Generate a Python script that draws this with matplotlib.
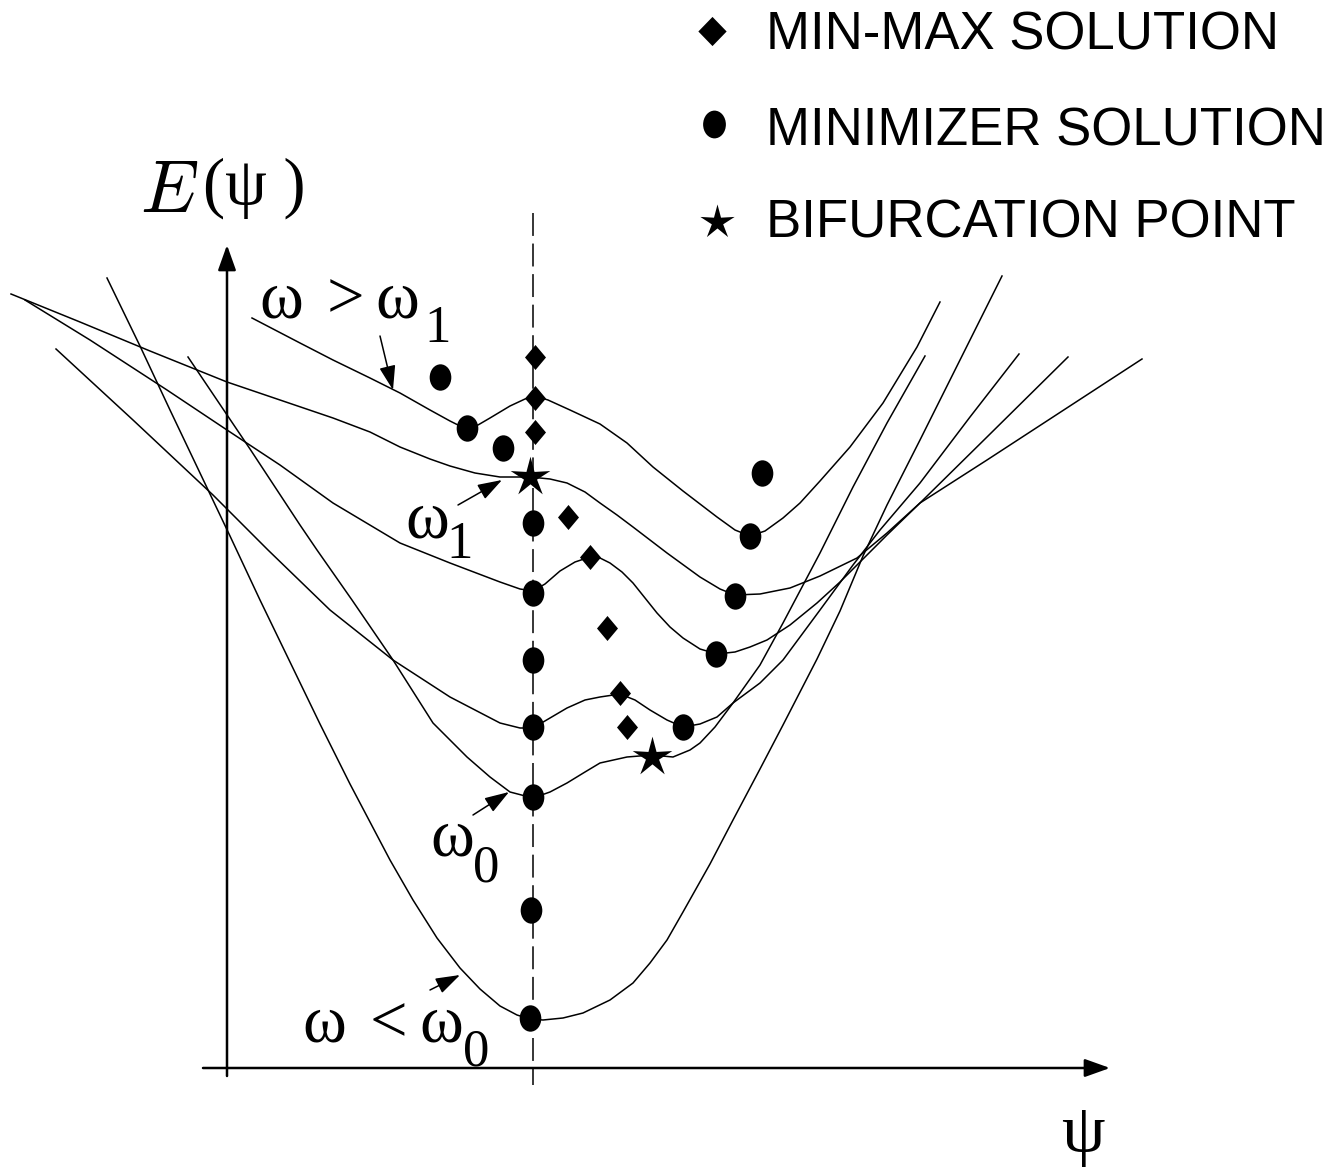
import numpy as np
import matplotlib
matplotlib.use("Agg")
import matplotlib.pyplot as plt
from matplotlib.path import Path
from matplotlib.transforms import Affine2D

plt.rcParams["mathtext.fontset"] = "cm"

# picture is drawn in pixel units of the original sketch (y grows downward)
# curves, from top (omega > omega_1) to bottom (omega < omega_0)
curve_a_x = [252, 300, 333, 370, 400, 430, 450, 460, 467, 478, 490, 510, 525, 535, 548, 570, 600, 627, 653, 683, 717, 735, 750, 765, 783, 800, 820, 850, 883, 917, 940]
curve_a_y = [318, 343, 360, 378, 393, 410, 421, 426, 428, 425, 418, 406, 399, 396, 400, 410, 424, 443, 467, 491, 517, 530, 536, 531, 518, 503, 481, 447, 403, 347, 302]

curve_b_x = [11, 80, 150, 227, 280, 333, 370, 400, 430, 450, 475, 500, 530, 550, 567, 585, 600, 617, 633, 650, 667, 700, 720, 735, 760, 790, 820, 857, 887, 920, 987, 1053, 1142]
curve_b_y = [294, 322, 351, 382, 400, 418, 432, 447, 459, 466, 473, 477, 477, 479, 483, 492, 503, 515, 527, 540, 553, 577, 589, 595, 594, 588, 576, 558, 533, 503, 460, 417, 359]

curve_c_x = [25, 90, 167, 227, 280, 333, 400, 450, 500, 520, 533, 545, 560, 575, 590, 600, 610, 622, 633, 645, 657, 670, 683, 700, 717, 735, 750, 767, 790, 817, 840, 862, 887, 920, 987, 1068]
curve_c_y = [300, 340, 390, 430, 465, 503, 543, 563, 582, 589, 591, 584, 571, 562, 557, 558, 563, 572, 583, 598, 613, 627, 638, 649, 654, 652, 647, 640, 625, 603, 582, 560, 535, 503, 437, 357]

curve_d_x = [56, 133, 213, 268, 330, 393, 450, 500, 520, 533, 550, 567, 585, 600, 620, 635, 650, 667, 683, 700, 717, 733, 760, 783, 820, 853, 880, 920, 970, 1019]
curve_d_y = [349, 420, 495, 550, 610, 660, 697, 723, 728, 728, 718, 708, 700, 697, 694, 700, 710, 720, 727, 724, 717, 703, 683, 660, 610, 565, 530, 483, 417, 354]

curve_e_x = [188, 250, 300, 317, 352, 393, 433, 467, 490, 510, 533, 550, 567, 585, 600, 627, 652, 673, 690, 700, 715, 733, 760, 783, 820, 853, 887, 925]
curve_e_y = [357, 449, 525, 550, 600, 660, 723, 757, 777, 792, 798, 792, 783, 772, 763, 757, 755, 757, 750, 743, 727, 703, 665, 623, 553, 487, 423, 356]

curve_f_x = [107, 140, 170, 200, 230, 260, 290, 320, 350, 370, 390, 413, 437, 460, 480, 500, 517, 530, 543, 563, 583, 610, 633, 650, 667, 683, 710, 733, 760, 783, 817, 840, 863, 887, 920, 965, 1002]
curve_f_y = [278, 346, 410, 473, 536, 600, 662, 724, 784, 822, 860, 900, 938, 968, 989, 1006, 1015, 1019, 1020, 1018, 1013, 1000, 983, 963, 940, 912, 864, 820, 769, 725, 659, 611, 556, 505, 440, 350, 276]

# markers
minimizer_x = [440, 467, 503, 533, 533, 533, 533, 533, 531, 530, 762, 750, 735, 716, 683]
minimizer_y = [377, 428, 448, 523, 593, 660, 727, 797, 910, 1018, 473, 536, 596, 654, 727]
minmax_x = [535, 535, 535, 568, 590, 607, 620, 627]
minmax_y = [357, 398, 432, 517, 557, 628, 693, 727]
bifurcation_x = [530, 652]
bifurcation_y = [477, 757]

legend_labels = ["MIN-MAX SOLUTION", "MINIMIZER SOLUTION", "BIFURCATION POINT"]

# marker shapes
dot_path = Affine2D().scale(0.82, 1.0).transform_path(Path.unit_circle())
diamond_path = Path([(0, 1), (0.84, 0), (0, -1), (-0.84, 0), (0, 1)], closed=True)
legend_diamond = Path([(0, 1), (0.97, 0), (0, -1), (-0.97, 0), (0, 1)], closed=True)
ang = np.pi / 2 + np.arange(10) * np.pi / 5
rad = np.where(np.arange(10) % 2 == 0, 1.0, 0.33)
star_path = Path(np.column_stack([rad * np.cos(ang), rad * np.sin(ang)]))

fig = plt.figure(figsize=(13.43, 11.68), dpi=100)
ax = fig.add_axes([0, 0, 1, 1])
ax.set_xlim(0, 1343)
ax.set_ylim(1168, 0)
ax.axis("off")

lw = 1.1
for cx, cy in [(curve_a_x, curve_a_y), (curve_b_x, curve_b_y), (curve_c_x, curve_c_y),
               (curve_d_x, curve_d_y), (curve_e_x, curve_e_y), (curve_f_x, curve_f_y)]:
    ax.plot(cx, cy, color="black", lw=lw, solid_joinstyle="round")

# dashed symmetry line
ax.plot([533, 533], [213, 1085], color="black", lw=1.1, dashes=(15, 5))

# axes with arrows
ax_arrow = dict(arrowstyle="-|>,head_length=0.7,head_width=0.25", lw=1.8, color="black",
                shrinkA=0, shrinkB=0, mutation_scale=22)
ax.annotate("", xy=(227, 245), xytext=(227, 1076), arrowprops=ax_arrow)
ax.annotate("", xy=(1110, 1068), xytext=(203, 1068), arrowprops=ax_arrow)

ax.plot(minmax_x, minmax_y, ls="none", marker=diamond_path, ms=18, color="black", mew=0)
ax.plot(minimizer_x, minimizer_y, ls="none", marker=dot_path, ms=19, color="black", mew=0)
ax.plot(bifurcation_x, bifurcation_y, ls="none", marker=star_path, ms=30, color="black", mew=0)

# small pointer arrows
small = dict(arrowstyle="-|>,head_length=0.75,head_width=0.25", lw=1.1, color="black",
             shrinkA=0, shrinkB=0, mutation_scale=20)
ax.annotate("", xy=(393, 390), xytext=(380, 336), arrowprops=small)
ax.annotate("", xy=(502, 480), xytext=(458, 505), arrowprops=small)
ax.annotate("", xy=(509, 792), xytext=(473, 815), arrowprops=small)
ax.annotate("", xy=(460, 975), xytext=(430, 990), arrowprops=small)

# labels
serif = "Liberation Serif"
fs = 48
sub = 38
ax.text(140, 212, r"$E$", fontsize=53, va="baseline", ha="left")
ax.text(203, 205, "(ψ )", fontsize=48, family=serif, va="baseline", ha="left")
ax.text(1061, 1152, "ψ", fontsize=50, family=serif, va="baseline", ha="left")

ax.text(259, 318, "ω", fontsize=fs, family=serif, va="baseline")
ax.text(327, 318, ">", fontsize=fs, family=serif, va="baseline")
ax.text(375, 318, "ω", fontsize=fs, family=serif, va="baseline")
ax.text(424, 342, "1", fontsize=sub, family=serif, va="baseline")

ax.text(405, 537, "ω", fontsize=fs, family=serif, va="baseline")
ax.text(446, 558, "1", fontsize=sub, family=serif, va="baseline")

ax.text(430, 855, "ω", fontsize=fs, family=serif, va="baseline")
ax.text(473, 882, "0", fontsize=sub, family=serif, va="baseline")

ax.text(302, 1042, "ω", fontsize=fs, family=serif, va="baseline")
ax.text(370, 1042, "<", fontsize=fs, family=serif, va="baseline")
ax.text(419, 1042, "ω", fontsize=fs, family=serif, va="baseline")
ax.text(463, 1065, "0", fontsize=sub, family=serif, va="baseline")

# legend
ax.plot([712], [31], marker=legend_diamond, ms=21, color="black", mew=0)
ax.plot([714], [124], marker=dot_path, ms=20, color="black", mew=0)
ax.plot([717], [222], marker=star_path, ms=26, color="black", mew=0)
for label, base in zip(legend_labels, [50, 146, 238]):
    ax.text(766, base, label, fontsize=38, family="Liberation Sans", va="baseline", ha="left")

fig.savefig("out.png", dpi=100)
